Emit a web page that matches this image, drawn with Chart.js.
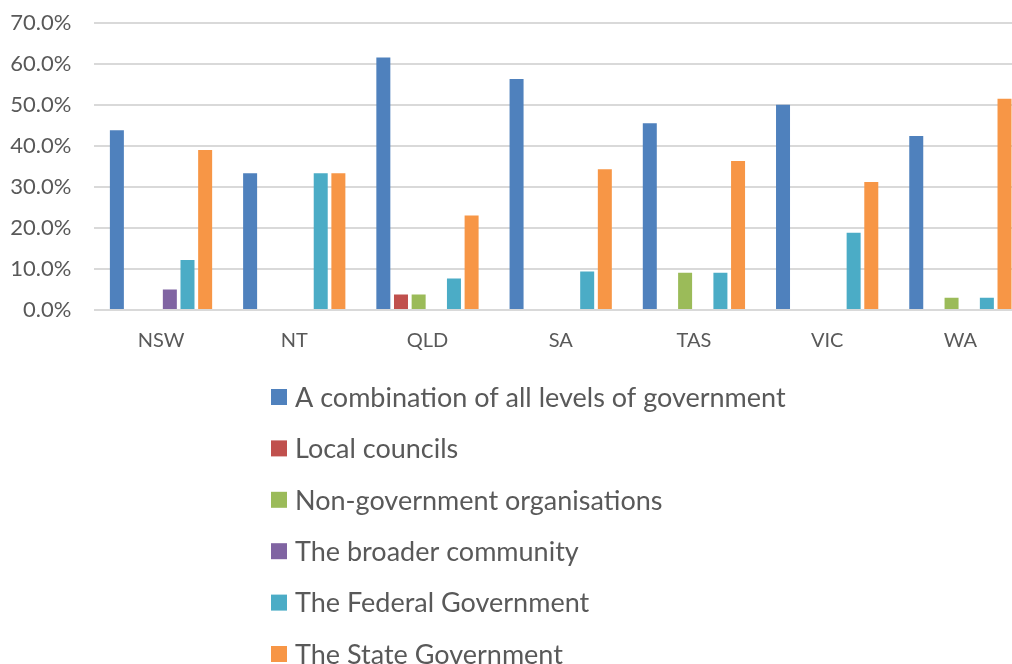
<!DOCTYPE html>
<html>
<head>
<meta charset="utf-8">
<script src="https://cdn.jsdelivr.net/npm/chart.js@4/dist/chart.umd.min.js"></script>
<style>
  html, body { margin: 0; padding: 0; background: #ffffff; overflow: hidden; }
  #wrap { position: relative; width: 1032px; height: 664px; }
</style>
</head>
<body>
<div id="wrap"><canvas id="c" width="1032" height="664"></canvas></div>
<script>
const categories = ["NSW", "NT", "QLD", "SA", "TAS", "VIC", "WA"];
const seriesNames = [
  "A combination of all levels of government",
  "Local councils",
  "Non-government organisations",
  "The broader community",
  "The Federal Government",
  "The State Government"
];
const combination = [43.8, 33.3, 61.5, 56.3, 45.5, 50.0, 42.4];
const localCouncils = [0, 0, 3.8, 0, 0, 0, 0];
const ngo = [0, 0, 3.8, 0, 9.1, 0, 3.0];
const community = [5.0, 0, 0, 0, 0, 0, 0];
const federal = [12.2, 33.3, 7.7, 9.4, 9.1, 18.8, 3.0];
const stateGov = [39.0, 33.3, 23.0, 34.3, 36.3, 31.2, 51.5];
const colors = ["#4F81BD", "#C0504D", "#9BBB59", "#8064A2", "#4BACC6", "#F79646"];
const yTicks = [0, 10, 20, 30, 40, 50, 60, 70];

const seriesValues = [combination, localCouncils, ngo, community, federal, stateGov];
const FONT = "Lato, 'Open Sans', sans-serif";
const TEXT = "#595959";

const legendPlugin = {
  id: "vertLegend",
  afterDraw(chart) {
    const ctx = chart.ctx;
    ctx.save();
    ctx.font = "27px " + FONT;
    ctx.textBaseline = "middle";
    ctx.textAlign = "left";
    chart.data.datasets.forEach((ds, i) => {
      const cy = 397 + i * 51.4;
      ctx.fillStyle = ds.backgroundColor;
      ctx.fillRect(271, cy - 8, 16, 16);
      ctx.fillStyle = TEXT;
      ctx.fillText(ds.label, 295, cy + 1);
    });
    ctx.restore();
  }
};

new Chart(document.getElementById("c"), {
  type: "bar",
  data: {
    labels: categories,
    datasets: seriesNames.map((name, i) => ({
      label: name,
      data: seriesValues[i],
      backgroundColor: colors[i],
      borderWidth: 0,
      categoryPercentage: 0.795,
      barPercentage: 0.793
    }))
  },
  options: {
    responsive: false,
    animation: false,
    layout: { padding: { left: 0, right: 5, top: 22.7, bottom: 314 } },
    plugins: {
      legend: { display: false },
      tooltip: { enabled: false }
    },
    scales: {
      x: {
        grid: { display: false, drawTicks: false },
        border: { display: false },
        ticks: { color: TEXT, font: { family: FONT, size: 20 }, padding: 19 },
        afterFit: s => { s.height = 40; }
      },
      y: {
        min: 0,
        max: 70,
        afterBuildTicks: s => { s.ticks = yTicks.map(v => ({ value: v })); },
        grid: { color: "#D9D9D9", lineWidth: 2, drawTicks: true, tickLength: 23, tickColor: "rgba(0,0,0,0)" },
        border: { display: false },
        ticks: {
          color: TEXT,
          font: { family: FONT, size: 22 },
          padding: 0,
          callback: v => v.toFixed(1) + "%"
        },
        afterFit: s => { s.width = 94.4; }
      }
    }
  },
  plugins: [legendPlugin]
});
</script>
</body>
</html>
